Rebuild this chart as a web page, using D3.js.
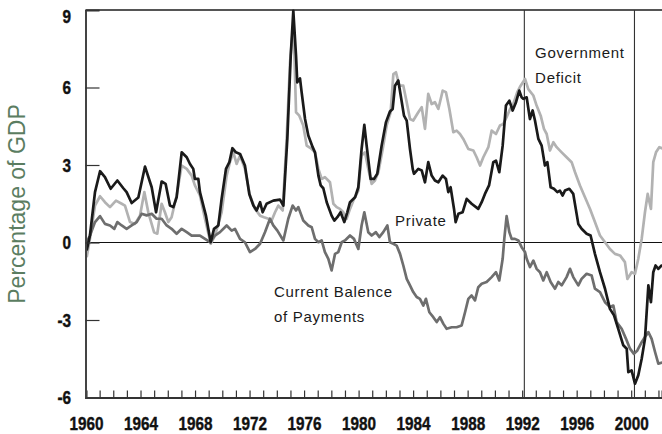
<!DOCTYPE html>
<html>
<head>
<meta charset="utf-8">
<script src="https://cdn.jsdelivr.net/npm/d3@7/dist/d3.min.js"></script>
<style>
  html, body { margin: 0; padding: 0; background: #ffffff; }
  svg { display: block; }
  text { font-family: "Liberation Sans", Arial, Helvetica, sans-serif; }
</style>
</head>
<body>
<svg id="chart" width="662" height="434"></svg>
<script>
// ---- Data (year, % of GDP) ----
const privateBalance = [
  [1960.05,-0.31],[1960.29,0.27],[1960.66,1.95],[1961.03,2.76],[1961.39,2.53],[1961.81,2.08],
  [1962.30,2.40],[1962.74,2.10],[1962.98,1.95],[1963.35,1.53],[1963.84,1.74],[1964.33,2.94],
  [1964.82,2.14],[1965.14,1.17],[1965.55,2.36],[1965.84,2.27],[1966.16,1.43],[1966.41,1.37],
  [1966.65,1.75],[1967.02,3.49],[1967.39,3.30],[1967.63,3.04],[1967.87,2.85],[1967.99,2.46],
  [1968.24,2.46],[1968.36,1.95],[1968.61,1.43],[1968.80,1.04],[1969.15,0.01],[1969.39,0.53],
  [1969.71,0.66],[1969.95,1.69],[1970.27,2.85],[1970.52,3.11],[1970.74,3.65],[1971.00,3.49],
  [1971.30,3.43],[1971.66,2.98],[1971.98,1.88],[1972.28,1.43],[1972.52,1.24],[1972.77,1.56],
  [1972.96,1.17],[1973.25,1.50],[1973.74,1.62],[1974.23,1.66],[1974.48,1.43],[1974.77,4.01],
  [1975.02,7.23],[1975.21,8.97],[1975.41,7.23],[1975.50,6.20],[1975.70,6.35],[1975.82,5.82],
  [1976.07,4.78],[1976.31,4.14],[1976.63,3.69],[1976.80,3.49],[1977.05,2.59],[1977.22,2.21],
  [1977.41,2.10],[1977.66,1.56],[1978.02,1.04],[1978.22,0.85],[1978.44,0.98],[1978.68,1.17],
  [1978.95,0.79],[1979.17,1.17],[1979.37,1.56],[1979.74,1.75],[1979.98,2.14],[1980.22,3.62],
  [1980.42,4.55],[1980.59,3.75],[1980.88,2.46],[1981.13,2.46],[1981.37,2.66],[1981.69,3.75],
  [1982.01,4.66],[1982.30,5.07],[1982.50,5.17],[1982.67,6.07],[1982.91,6.27],[1983.09,5.69],
  [1983.33,4.91],[1983.53,4.72],[1983.77,3.62],[1983.97,2.85],[1984.06,2.66],[1984.38,2.85],
  [1984.63,2.79],[1984.87,2.33],[1985.11,3.11],[1985.36,2.59],[1985.60,2.40],[1985.85,2.33],
  [1986.17,2.59],[1986.41,2.46],[1986.58,1.95],[1986.75,2.14],[1987.00,1.30],[1987.12,0.79],
  [1987.32,1.11],[1987.63,1.17],[1987.93,1.69],[1988.29,1.50],[1988.78,1.30],[1989.03,1.56],
  [1989.27,1.88],[1989.57,2.21],[1989.88,3.11],[1990.08,3.17],[1990.32,2.72],[1990.57,3.75],
  [1990.81,5.30],[1991.06,5.49],[1991.30,5.11],[1991.55,5.43],[1991.79,5.88],[1991.96,5.62],
  [1992.08,5.56],[1992.33,5.62],[1992.57,4.78],[1992.77,5.11],[1992.94,4.72],[1993.19,4.01],
  [1993.43,3.75],[1993.67,2.98],[1993.85,3.11],[1994.09,2.14],[1994.33,2.08],[1994.58,1.95],
  [1994.77,2.01],[1994.97,1.82],[1995.14,2.01],[1995.46,2.08],[1995.75,1.88],[1996.12,0.72],
  [1996.36,0.53],[1996.73,0.34],[1997.02,0.27],[1997.34,-0.44],[1997.71,-1.15],[1998.08,-1.79],
  [1998.44,-2.57],[1998.74,-2.82],[1999.05,-3.34],[1999.42,-3.98],[1999.67,-4.11],[1999.79,-5.02],
  [2000.03,-4.95],[2000.28,-5.47],[2000.52,-5.14],[2000.77,-4.50],[2001.01,-3.73],[2001.26,-1.66],
  [2001.45,-2.31],[2001.62,-1.15],[2001.79,-0.89],[2001.99,-1.02],[2002.23,-0.89],[2002.40,-0.90]
];

const governmentDeficit = [
  [1960.05,-0.57],[1960.29,0.14],[1960.66,1.43],[1961.03,1.79],[1961.39,1.56],[1961.76,1.37],
  [1962.20,1.62],[1962.62,1.50],[1962.86,1.43],[1963.23,0.79],[1963.59,0.72],[1963.96,1.04],
  [1964.28,1.95],[1964.57,1.17],[1964.99,0.40],[1965.23,0.34],[1965.55,1.50],[1965.79,1.17],
  [1966.04,0.79],[1966.28,0.98],[1966.65,1.82],[1967.02,2.98],[1967.39,2.85],[1967.75,2.59],
  [1967.99,2.21],[1968.36,1.82],[1968.73,0.92],[1969.15,-0.05],[1969.46,0.27],[1969.95,1.17],
  [1970.32,2.59],[1970.56,3.11],[1970.81,3.49],[1971.05,3.04],[1971.30,3.37],[1971.66,2.85],
  [1972.03,1.82],[1972.40,1.30],[1972.77,1.04],[1973.06,0.98],[1973.38,0.92],[1973.62,0.85],
  [1973.87,1.17],[1974.11,1.43],[1974.43,1.24],[1974.72,4.01],[1974.97,6.98],[1975.16,8.14],
  [1975.26,7.88],[1975.41,5.04],[1975.65,4.91],[1975.94,4.53],[1976.19,3.75],[1976.56,3.62],
  [1976.80,3.49],[1977.05,2.85],[1977.29,2.46],[1977.53,2.53],[1977.90,2.33],[1978.15,1.50],
  [1978.39,1.37],[1978.63,1.30],[1978.88,1.17],[1979.12,0.92],[1979.37,1.30],[1979.61,1.62],
  [1979.98,2.01],[1980.22,3.37],[1980.47,3.49],[1980.71,2.85],[1980.96,2.27],[1981.20,2.40],
  [1981.45,2.72],[1981.77,3.62],[1982.06,4.53],[1982.35,5.04],[1982.55,6.52],[1982.74,6.59],
  [1982.99,6.07],[1983.28,6.07],[1983.53,5.43],[1983.77,4.78],[1984.01,4.72],[1984.38,5.04],
  [1984.63,5.24],[1984.87,4.40],[1985.11,5.75],[1985.36,5.36],[1985.60,5.43],[1985.85,5.17],
  [1986.17,5.88],[1986.41,5.82],[1986.66,5.17],[1986.95,4.27],[1987.19,4.33],[1987.44,4.20],
  [1987.68,4.01],[1988.05,3.62],[1988.42,3.56],[1988.66,3.30],[1988.91,2.98],[1989.15,3.30],
  [1989.52,3.69],[1989.76,4.33],[1990.08,4.20],[1990.37,4.53],[1990.62,4.59],[1990.86,4.85],
  [1991.11,5.17],[1991.35,5.36],[1991.64,5.82],[1991.89,6.07],[1992.21,6.33],[1992.45,5.94],
  [1992.82,5.69],[1993.06,5.30],[1993.36,4.91],[1993.60,4.40],[1993.80,4.20],[1994.04,3.56],
  [1994.29,3.88],[1994.53,3.69],[1994.90,3.49],[1995.26,3.30],[1995.63,3.11],[1995.88,2.72],
  [1996.24,2.21],[1996.61,1.75],[1996.98,1.30],[1997.34,0.79],[1997.71,0.27],[1998.08,0.01],
  [1998.44,-0.25],[1998.81,-0.44],[1999.18,-0.50],[1999.54,-0.76],[1999.72,-1.41],[2000.03,-1.15],
  [2000.28,-1.21],[2000.52,-0.63],[2000.77,0.14],[2001.01,1.17],[2001.21,1.88],[2001.45,1.30],
  [2001.62,3.11],[2001.82,3.49],[2002.06,3.69],[2002.40,3.62]
];

const currentBalance = [
  [1960.05,0.01],[1960.29,0.27],[1960.66,0.79],[1961.03,1.02],[1961.39,0.72],[1961.76,0.66],
  [1962.08,0.53],[1962.30,0.79],[1962.62,0.66],[1962.98,0.53],[1963.35,0.66],[1963.72,0.79],
  [1964.08,1.11],[1964.45,1.05],[1964.82,1.11],[1965.18,0.92],[1965.55,0.92],[1965.92,0.66],
  [1966.28,0.53],[1966.65,0.34],[1967.02,0.53],[1967.39,0.40],[1967.75,0.27],[1968.12,0.27],
  [1968.36,0.27],[1968.73,0.14],[1969.10,0.01],[1969.46,0.27],[1969.83,0.40],[1970.32,0.66],
  [1970.69,0.46],[1970.93,0.53],[1971.30,0.14],[1971.66,0.01],[1972.03,-0.37],[1972.40,-0.25],
  [1972.77,-0.05],[1973.13,0.40],[1973.50,0.92],[1973.74,0.66],[1974.04,0.46],[1974.48,0.08],
  [1974.84,0.92],[1975.16,1.43],[1975.41,1.24],[1975.58,1.37],[1975.94,0.85],[1976.31,0.66],
  [1976.56,0.59],[1976.80,0.14],[1977.05,0.01],[1977.29,0.08],[1977.53,-0.37],[1977.78,-0.63],
  [1978.02,-1.08],[1978.27,-0.44],[1978.51,-0.37],[1978.76,0.01],[1979.00,0.08],[1979.37,0.27],
  [1979.66,0.14],[1979.98,-0.25],[1980.22,0.66],[1980.42,1.17],[1980.71,0.40],[1980.96,0.27],
  [1981.27,0.40],[1981.52,0.21],[1981.81,0.40],[1982.11,0.66],[1982.30,0.01],[1982.55,-0.05],
  [1982.79,-0.12],[1983.04,-0.44],[1983.28,-0.89],[1983.53,-1.41],[1983.77,-1.66],[1984.01,-1.92],
  [1984.26,-2.11],[1984.50,-2.18],[1984.75,-2.44],[1984.94,-2.18],[1985.19,-2.70],[1985.48,-2.89],
  [1985.73,-3.08],[1985.97,-2.89],[1986.22,-3.15],[1986.46,-3.34],[1986.83,-3.28],[1987.19,-3.28],
  [1987.56,-3.21],[1987.81,-2.70],[1988.05,-2.18],[1988.29,-2.05],[1988.54,-2.24],[1988.78,-1.73],
  [1989.03,-1.60],[1989.39,-1.53],[1989.76,-1.34],[1990.08,-1.15],[1990.32,-1.47],[1990.57,-0.63],
  [1990.69,0.14],[1990.86,1.02],[1991.06,0.40],[1991.23,0.14],[1991.47,0.14],[1991.72,0.08],
  [1991.96,-0.18],[1992.21,-0.37],[1992.33,-0.63],[1992.57,-0.95],[1992.82,-0.70],[1993.06,-1.02],
  [1993.31,-1.15],[1993.55,-1.47],[1993.80,-1.15],[1994.09,-1.53],[1994.41,-1.79],[1994.65,-1.53],
  [1994.90,-1.66],[1995.26,-1.34],[1995.51,-1.02],[1995.75,-1.34],[1996.12,-1.66],[1996.36,-1.41],
  [1996.73,-1.21],[1997.10,-1.28],[1997.34,-1.79],[1997.71,-1.92],[1998.08,-2.31],[1998.44,-2.50],
  [1998.69,-2.44],[1998.93,-3.08],[1999.30,-3.34],[1999.62,-3.73],[1999.91,-4.11],[2000.20,-4.31],
  [2000.45,-4.18],[2000.77,-3.86],[2001.01,-3.66],[2001.26,-3.47],[2001.50,-3.73],[2001.75,-4.24],
  [2001.99,-4.69],[2002.40,-4.63]
];

const yTickValues = [-6, -3, 0, 3, 6, 9];
const xTickYears = d3.range(1960, 2003);          // yearly tick marks
const xLabelYears = d3.range(1960, 2001, 4);      // labelled years
const markerYears = [1992.16, 2000.24];           // vertical reference lines
const yAxisTitle = "Percentage of GDP";
const annotations = [
  { lines: ["Government", "Deficit"], year: 1992.95, value: 7.15 },
  { lines: ["Private"], year: 1982.67, value: 0.63 },
  { lines: ["Current Balence", "of Payments"], year: 1973.79, value: -2.1 }
];

// ---- Layout ----
const svg = d3.select("#chart");
const plotLeft = 86, plotRight = 662, plotTop = 10, plotBottom = 397.5;

const x = d3.scaleLinear().domain([1960, 2002.26]).range([plotLeft, plotRight]);
const y = d3.scaleLinear().domain([-6, 9]).range([plotBottom, plotTop]);

svg.append("defs").append("clipPath").attr("id", "plotclip")
  .append("rect").attr("x", plotLeft).attr("y", plotTop - 2)
  .attr("width", plotRight - plotLeft).attr("height", plotBottom - plotTop + 2);

// frame top
svg.append("line").attr("x1", plotLeft).attr("x2", plotRight).attr("y1", plotTop).attr("y2", plotTop)
  .attr("stroke", "#555").attr("stroke-width", 2);

// zero line
svg.append("line").attr("x1", plotLeft).attr("x2", plotRight).attr("y1", y(0)).attr("y2", y(0))
  .attr("stroke", "#111").attr("stroke-width", 1.1);

// vertical markers
svg.selectAll(".marker").data(markerYears).enter().append("line")
  .attr("class", "marker")
  .attr("x1", d => x(d)).attr("x2", d => x(d)).attr("y1", plotTop).attr("y2", plotBottom)
  .attr("stroke", "#333").attr("stroke-width", 1.1);

// lines
const line = d3.line().x(d => x(d[0])).y(d => y(d[1]));
const g = svg.append("g").attr("clip-path", "url(#plotclip)");
g.append("path").datum(governmentDeficit).attr("d", line)
  .attr("fill", "none").attr("stroke", "#b2b2b2").attr("stroke-width", 2.7).attr("stroke-linejoin", "round");
g.append("path").datum(currentBalance).attr("d", line)
  .attr("fill", "none").attr("stroke", "#6e6e6e").attr("stroke-width", 2.7).attr("stroke-linejoin", "round");
g.append("path").datum(privateBalance).attr("d", line)
  .attr("fill", "none").attr("stroke", "#1a1a1a").attr("stroke-width", 2.7).attr("stroke-linejoin", "round");

// x axis
const xAxis = d3.axisBottom(x).tickValues(xTickYears).tickSize(-7)
  .tickFormat(d => xLabelYears.includes(d) ? String(d) : "");
const xg = svg.append("g").attr("transform", `translate(0,${plotBottom})`).call(xAxis);
xg.select(".domain").attr("stroke", "#333").attr("stroke-width", 2);
xg.selectAll(".tick line").attr("stroke", "#333").attr("stroke-width", 1.2);
xg.selectAll(".tick text")
  .attr("y", 33).attr("dy", 0)
  .attr("transform", "scale(0.85,1)")
  .attr("fill", "#111")
  .attr("stroke", "#111").attr("stroke-width", 0.4)
  .style("font-family", "'Liberation Sans', Arial, sans-serif")
  .style("font-size", "18px").style("font-weight", "bold");

// y axis
const yAxis = d3.axisLeft(y).tickValues(yTickValues).tickSize(-14).tickFormat(d3.format("d"));
const yg = svg.append("g").attr("transform", `translate(${plotLeft - 0.5},0)`).call(yAxis);
yg.select(".domain").attr("stroke", "#444").attr("stroke-width", 2);
yg.selectAll(".tick line").attr("stroke", "#333").attr("stroke-width", 1.2);
yg.selectAll(".tick text")
  .attr("x", -17).attr("y", d => Math.max(y(d), 16.5) - y(d)).attr("dy", "0.36em")
  .attr("transform", "scale(0.85,1)")
  .attr("fill", "#111")
  .attr("stroke", "#111").attr("stroke-width", 0.4)
  .style("font-family", "'Liberation Sans', Arial, sans-serif")
  .style("font-size", "18px").style("font-weight", "bold")
  .text(d => d < 0 ? "-" + Math.abs(d) : String(d));

// y title
svg.append("text")
  .attr("transform", `translate(25,204) rotate(-90)`)
  .attr("text-anchor", "middle")
  .attr("fill", "#5b7d61")
  .style("font-size", "23px")
  .text(yAxisTitle);

// annotations
annotations.forEach(a => {
  const t = svg.append("text")
    .attr("x", x(a.year)).attr("y", y(a.value))
    .attr("fill", "#1a1a1a")
    .style("font-size", "15px").style("letter-spacing", "0.7px");
  a.lines.forEach((l, i) => {
    t.append("tspan").attr("x", x(a.year)).attr("dy", i === 0 ? 0 : 25).text(l);
  });
});
</script>
</body>
</html>
